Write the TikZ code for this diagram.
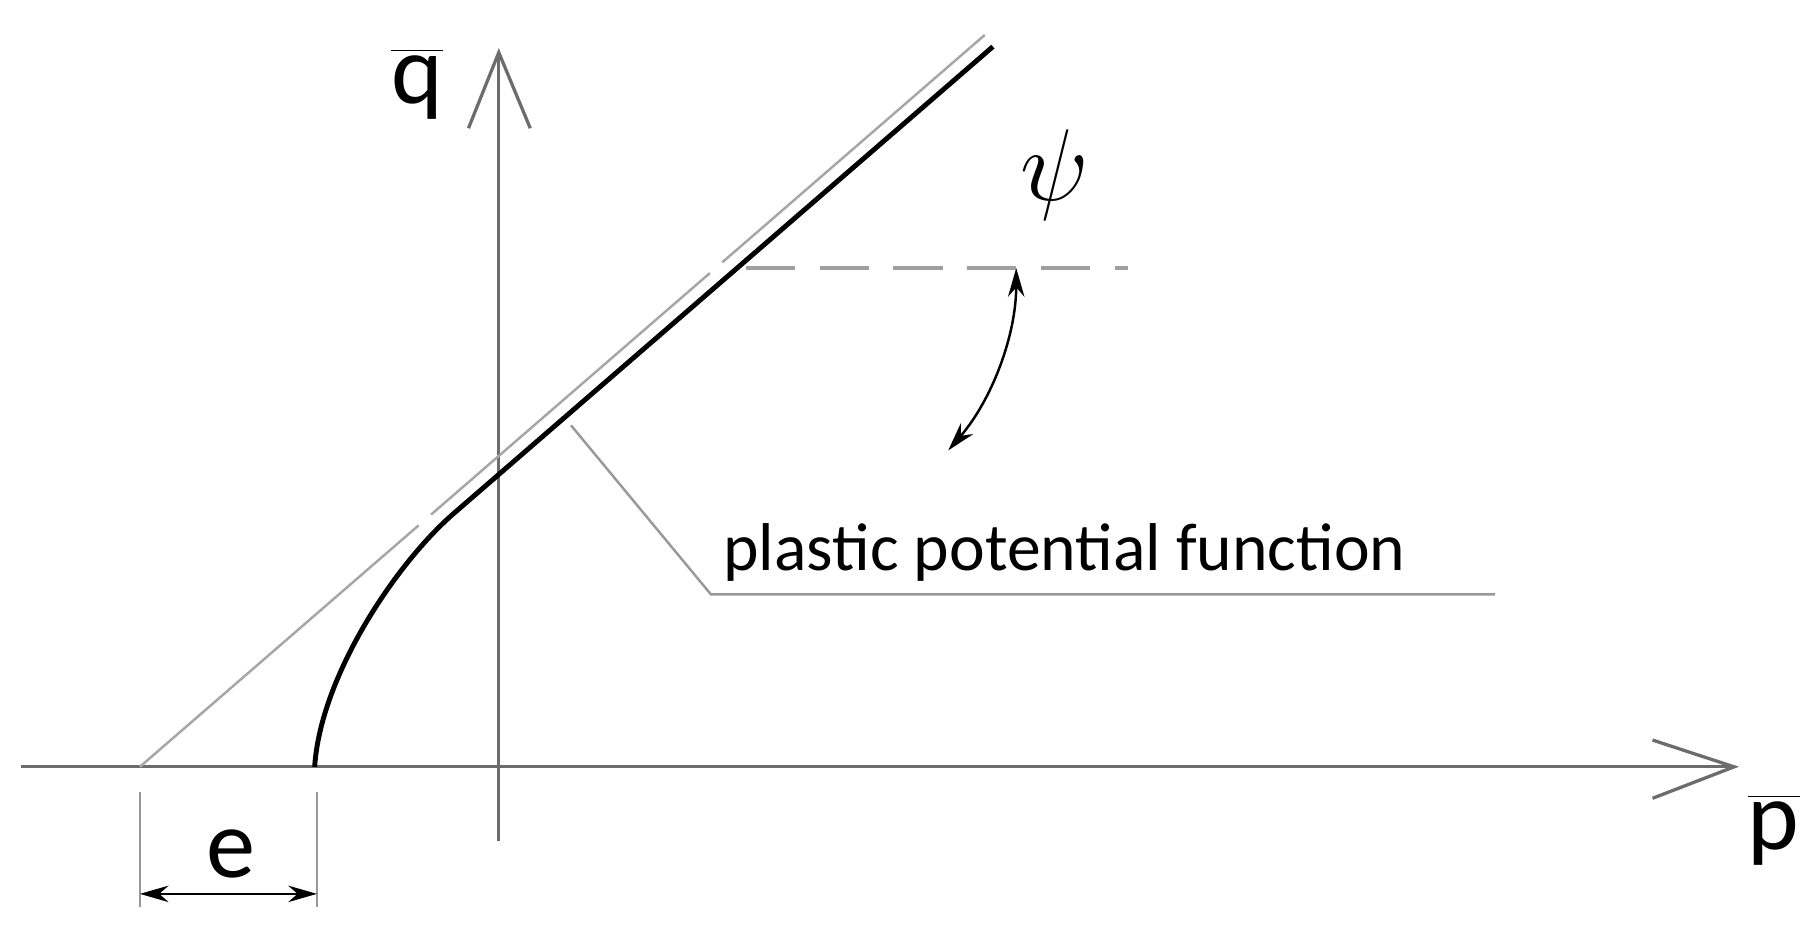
\documentclass[tikz,border=0pt]{standalone}
\usepackage{fontspec}
\setmainfont{Carlito}
\usetikzlibrary{arrows.meta}
\begin{document}
\begin{tikzpicture}[x=0.01cm,y=-0.01cm,
  axis/.style={draw=gray!85!black,line width=0.8pt},
  thin/.style={draw=gray!80,line width=0.6pt},
  dsh/.style={draw=gray!70,line width=0.8pt,dash pattern=on 40pt off 14pt},
  lbl/.style={inner sep=0pt,font=\fontsize{24}{28}\selectfont}]
\useasboundingbox (0,0) rectangle (1560,799);
% axes
\coordinate (p0) at (18,658); \coordinate (p1) at (1488,658);
\coordinate (q0) at (428,722); \coordinate (q1) at (428,45);
\draw[axis] (p0) -- (p1);
\draw[axis] (1418,635) -- (p1) -- (1418,685);
\draw[axis] (q0) -- (q1);
\draw[axis] (402,110) -- (q1) -- (455,110);
\node[lbl] (q) at (358,72) {$\overline{\hbox{q}}$};
\node[lbl] (p) at (1522,712) {$\overline{\hbox{p}}$};
% asymptote
\coordinate (a0) at (120,658); \coordinate (a1) at (845,30);
\draw[draw=gray!70,line width=0.6pt,dash pattern=on 90pt off 4pt] (a0) -- (a1);
% solid curve
\coordinate (c0) at (270,658); \coordinate (c1) at (390,440); \coordinate (c2) at (852,40);
\draw[black,line width=1.2pt] (c0) .. controls (275,580) and (340,483) .. (c1) -- (c2);
% horizontal dashed
\coordinate (h0) at (640,230); \coordinate (h1) at (968,230);
\draw[draw=gray!75,line width=1pt,dash pattern=on 12pt off 6pt] (h0) -- (h1);
% angle arc
\draw[black,line width=0.6pt,{Stealth[length=7pt,width=4pt]}-{Stealth[length=7pt,width=4pt]}]
  (633,230) ++(40.9:239) arc[start angle=40.9,end angle=0,radius=239];
\node[lbl] (psi) at (905,150) {$\psi$};
% leader
\coordinate (l0) at (490,365); \coordinate (l1) at (610,510); \coordinate (l2) at (1283,510);
\draw[thin] (l0) -- (l1) -- (l2);
\node[anchor=south west,inner sep=0pt,font=\fontsize{16.5}{20}\selectfont] (t) at (620,500) {plastic potential function};
% e dimension
\draw[thin] (120,680) -- (120,778);
\draw[thin] (272,680) -- (272,778);
\draw[black,line width=0.6pt,{Stealth[length=7pt,width=4pt]}-{Stealth[length=7pt,width=4pt]}] (120,767) -- (272,767);
\node[lbl] (e) at (198,733) {e};
\end{tikzpicture}
\end{document}
